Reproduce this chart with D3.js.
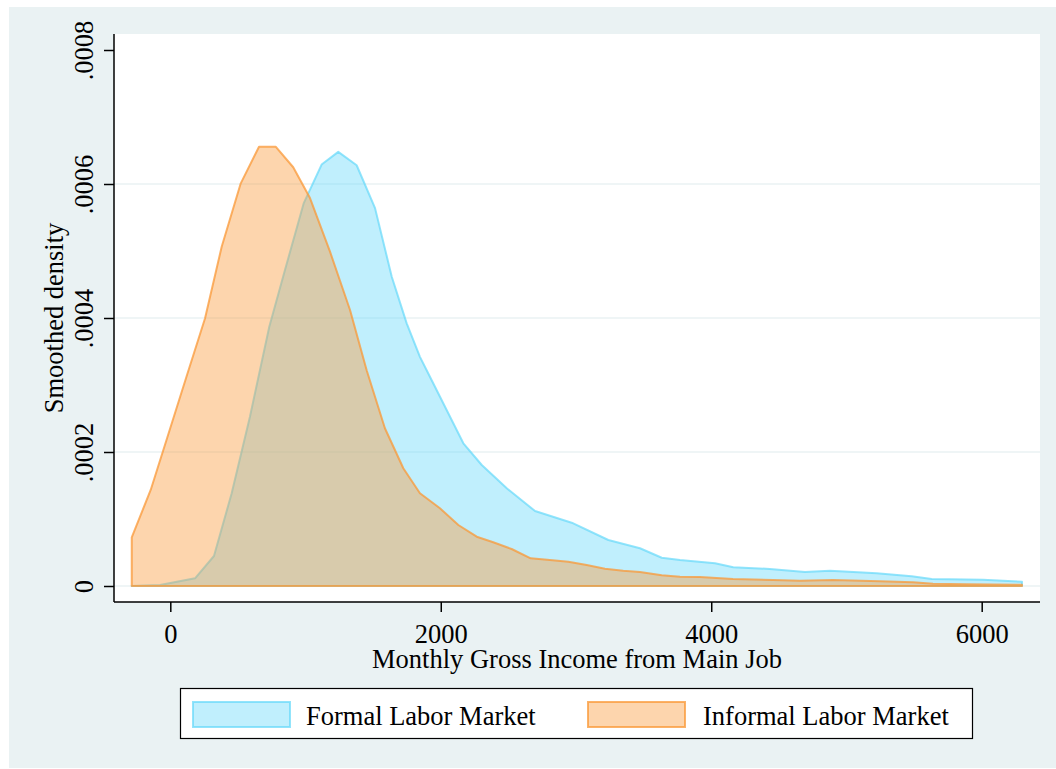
<!DOCTYPE html>
<html><head><meta charset="utf-8">
<script src="https://cdn.jsdelivr.net/npm/d3@7/dist/d3.min.js"></script>
<style>body{margin:0;background:#fff}svg{display:block}text{font-family:"Liberation Serif","Times New Roman",serif}</style>
</head><body><svg id="c" width="1056" height="769"></svg>
<script>
// Informal Labor Market (orange) kernel density
const informalX = [-285,-285,-145,-17,116,257,380,521,656,779,909,1033,1181,1329,1452,1587,1723,1846,1994,2130,2266,2388,2524,2665,2807,2943,3079,3214,3349,3473,3634,3769,3916,4161,4457,4656,4900,5248,5492,5640,5891,6298,6298];
const informalY = [0,0.0000727,0.0001433,0.000225,0.000310,0.0003996,0.0005064,0.000601,0.0006557,0.0006557,0.000625,0.000579,0.000499,0.000412,0.000322,0.0002354,0.0001757,0.0001384,0.000116,0.0000910,0.0000736,0.0000652,0.0000552,0.0000413,0.0000388,0.0000363,0.0000313,0.0000258,0.0000228,0.0000209,0.0000160,0.0000139,0.0000134,0.0000104,0.0000090,0.0000079,0.0000090,0.0000070,0.0000055,0.0000034,0.0000025,0.0000019,0];
// Formal Labor Market (blue) kernel density
const formalX = [-285,-76,183,323,454,589,732,848,986,1119,1242,1378,1514,1637,1748,1846,1933,2167,2303,2488,2697,2968,3239,3473,3634,3769,4028,4163,4434,4693,4878,5223,5482,5630,6009,6298,6298];
const formalY = [0,0.0000015,0.0000115,0.0000448,0.0001384,0.0002527,0.000387,0.0004716,0.000571,0.000629,0.000648,0.000628,0.000564,0.000462,0.000392,0.000342,0.000307,0.000213,0.0001806,0.0001458,0.0001119,0.0000945,0.0000687,0.0000563,0.0000422,0.0000388,0.0000339,0.0000279,0.0000254,0.0000209,0.0000228,0.0000190,0.0000145,0.0000104,0.0000094,0.0000064,0];
const xTicks = [0,2000,4000,6000];
const yTicks = [0,0.0002,0.0004,0.0006,0.0008];
const yTickLabels = ["0",".0002",".0004",".0006",".0008"];
const gridTicks = [0,0.0002,0.0004,0.0006];
const seriesNames = ["Formal Labor Market","Informal Labor Market"];

const svg = d3.select("#c");
const FS = 26.5;
const blue = "rgb(101,216,250)", orange = "rgb(250,152,55)";
svg.append("rect").attr("x",9).attr("y",7).attr("width",1047).attr("height",761).attr("fill","#eaf2f3");
const L=114, R=1040, T=34, B=602;
svg.append("rect").attr("x",L).attr("y",T).attr("width",R-L).attr("height",B-T).attr("fill","#fff");

const x = d3.scaleLinear().domain([0,6000]).range([170.3,981.7]);
const y = d3.scaleLinear().domain([0,0.0008]).range([586,50]);

// grid
svg.append("g").selectAll("line").data(gridTicks).join("line")
  .attr("x1",L).attr("x2",R).attr("y1",d=>y(d)).attr("y2",d=>y(d))
  .attr("stroke","#eaf2f3").attr("stroke-width",1.5);

const line = d3.line().x(d=>x(d[0])).y(d=>y(d[1]));
const fPts = formalX.map((v,i)=>[v,formalY[i]]);
const iPts = informalX.map((v,i)=>[v,informalY[i]]);
svg.append("path").attr("d",line(fPts)+"Z").attr("fill",blue).attr("fill-opacity",0.41)
  .attr("stroke",blue).attr("stroke-opacity",0.7).attr("stroke-width",2).attr("stroke-linejoin","round");
svg.append("path").attr("d",line(iPts)+"Z").attr("fill",orange).attr("fill-opacity",0.41)
  .attr("stroke",orange).attr("stroke-opacity",0.75).attr("stroke-width",2).attr("stroke-linejoin","round");

// axes
const ya = svg.append("g").attr("transform",`translate(${L},0)`)
  .call(d3.axisLeft(y).tickValues(yTicks).tickSize(10).tickFormat((d,i)=>yTickLabels[i]));
ya.select(".domain").attr("d",`M0,${T}V${B}`).attr("stroke-width",1.5);
ya.selectAll(".tick line").attr("stroke-width",1.5);
ya.selectAll(".tick text").attr("x",0).attr("y",0).attr("dy",null).attr("text-anchor","middle")
  .attr("transform","translate(-21,0) rotate(-90)").attr("font-size",FS).attr("fill","#000")
  .attr("font-family","Liberation Serif");

const xa = svg.append("g").attr("transform",`translate(0,${B})`)
  .call(d3.axisBottom(x).tickValues(xTicks).tickSize(10).tickFormat(d3.format("d")));
xa.select(".domain").attr("d",`M${L},0H${R}`).attr("stroke-width",1.5);
xa.selectAll(".tick line").attr("stroke-width",1.5);
xa.selectAll(".tick text").attr("y",41).attr("dy",null).attr("font-size",FS).attr("fill","#000")
  .attr("font-family","Liberation Serif");

svg.append("text").attr("x",(L+R)/2).attr("y",668).attr("text-anchor","middle").attr("font-size",FS)
  .text("Monthly Gross Income from Main Job");
svg.append("text").attr("transform",`translate(63,${(T+B)/2}) rotate(-90)`).attr("text-anchor","middle")
  .attr("font-size",FS).text("Smoothed density");

// legend
svg.append("rect").attr("x",180.5).attr("y",688.5).attr("width",792).attr("height",50)
  .attr("fill","#fff").attr("stroke","#000").attr("stroke-width",1.2);
const leg = [{c:blue,so:0.7,x:193,tx:306},{c:orange,so:0.75,x:588,tx:703}];
leg.forEach((l,i)=>{
  svg.append("rect").attr("x",l.x).attr("y",702).attr("width",97).attr("height",25)
    .attr("fill",l.c).attr("fill-opacity",0.41).attr("stroke",l.c).attr("stroke-opacity",l.so).attr("stroke-width",2);
  svg.append("text").attr("x",l.tx).attr("y",725).attr("font-size",FS).text(seriesNames[i]);
});
</script></body></html>
